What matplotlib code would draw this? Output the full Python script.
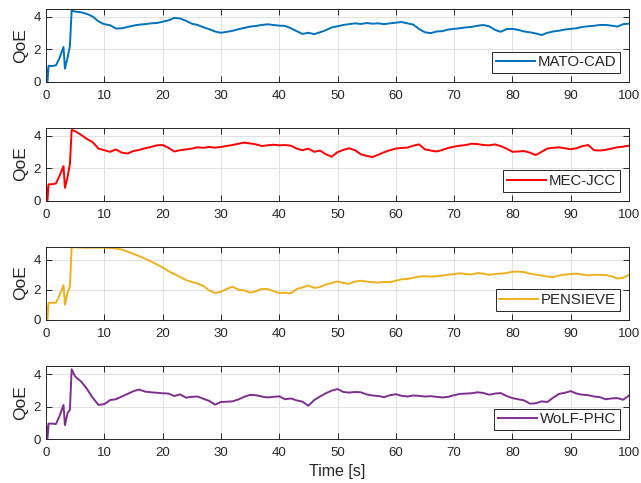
import matplotlib
matplotlib.use("Agg")
import matplotlib.pyplot as plt

plt.rcParams['font.family'] = ['Liberation Sans', 'DejaVu Sans']

# Time axis: dense samples during the start-up transient, then one per second
t_start = [0, 0.25, 0.45, 1.0, 1.7, 2.3, 3.0, 3.25, 3.7, 4.1, 4.4]
t_steady = list(range(5, 101))
time = t_start + t_steady

labels = ["MATO-CAD", "MEC-JCC", "PENSIEVE", "WoLF-PHC"]
colors = ["#0072BD", "#FF0000", "#EDB120", "#7E2F8E"]

qoe_mato_cad = [1.05, 0.0, 1.0, 0.98, 1.02, 1.45, 2.15, 0.82, 1.5, 2.2, 4.38,
    4.32, 4.28, 4.18, 4.02, 3.72, 3.55, 3.48, 3.28, 3.3, 3.38,
    3.46, 3.52, 3.55, 3.6, 3.62, 3.7, 3.78, 3.93, 3.9, 3.76,
    3.58, 3.5, 3.36, 3.24, 3.1, 3.02, 3.08, 3.14, 3.24, 3.32,
    3.4, 3.44, 3.5, 3.54, 3.5, 3.46, 3.44, 3.3, 3.12, 2.95,
    3.02, 2.94, 3.05, 3.18, 3.35, 3.42, 3.5, 3.55, 3.6, 3.56,
    3.62, 3.58, 3.6, 3.55, 3.6, 3.64, 3.68, 3.6, 3.52, 3.25,
    3.05, 3.0, 3.1, 3.12, 3.22, 3.26, 3.3, 3.35, 3.38, 3.45,
    3.5, 3.42, 3.2, 3.08, 3.25, 3.26, 3.2, 3.1, 3.05, 2.98,
    2.88, 3.02, 3.1, 3.15, 3.22, 3.26, 3.3, 3.38, 3.42, 3.45,
    3.5, 3.5, 3.46, 3.4, 3.55, 3.58]

qoe_mec_jcc = [1.05, 0.0, 1.0, 1.0, 1.05, 1.5, 2.12, 0.78, 1.45, 2.25, 4.35,
    4.28, 4.05, 3.8, 3.6, 3.2, 3.1, 3.0, 3.15, 2.95, 2.9,
    3.05, 3.12, 3.22, 3.3, 3.4, 3.42, 3.25, 3.02, 3.1, 3.15,
    3.2, 3.28, 3.25, 3.3, 3.26, 3.3, 3.36, 3.42, 3.5, 3.57,
    3.52, 3.46, 3.36, 3.4, 3.44, 3.4, 3.42, 3.38, 3.2, 3.1,
    3.2, 3.0, 3.08, 2.85, 2.7, 2.98, 3.12, 3.22, 3.1, 2.85,
    2.75, 2.68, 2.82, 2.98, 3.1, 3.2, 3.24, 3.26, 3.38, 3.46,
    3.15, 3.08, 3.02, 3.12, 3.24, 3.32, 3.38, 3.42, 3.5, 3.48,
    3.42, 3.4, 3.46, 3.35, 3.2, 3.0, 3.02, 3.05, 2.95, 2.8,
    3.0, 3.2, 3.25, 3.28, 3.22, 3.16, 3.22, 3.35, 3.42, 3.1,
    3.08, 3.12, 3.2, 3.28, 3.32, 3.38]

qoe_pensieve = [1.1, 0.0, 1.12, 1.12, 1.12, 1.6, 2.3, 1.0, 1.8, 2.2, 4.85,
    4.84, 4.83, 4.82, 4.82, 4.83, 4.82, 4.8, 4.76, 4.7, 4.55,
    4.4, 4.25, 4.08, 3.9, 3.7, 3.5, 3.25, 3.05, 2.85, 2.65,
    2.52, 2.42, 2.25, 1.95, 1.78, 1.86, 2.05, 2.2, 2.0, 1.95,
    1.8, 1.9, 2.05, 2.05, 1.9, 1.78, 1.8, 1.75, 2.05, 2.15,
    2.28, 2.12, 2.18, 2.35, 2.45, 2.55, 2.45, 2.4, 2.55, 2.6,
    2.55, 2.5, 2.48, 2.52, 2.5, 2.6, 2.7, 2.72, 2.8, 2.88,
    2.9, 2.88, 2.9, 2.95, 3.0, 3.05, 3.1, 3.05, 3.02, 3.12,
    3.08, 3.0, 3.05, 3.08, 3.12, 3.2, 3.22, 3.18, 3.08, 3.02,
    2.95, 2.88, 2.85, 2.95, 3.02, 3.05, 3.08, 3.02, 2.96, 3.0,
    3.0, 2.98, 2.9, 2.75, 2.8, 3.0]

qoe_wolf_phc = [1.05, 0.0, 0.95, 0.95, 0.92, 1.4, 2.1, 0.85, 1.6, 1.8, 4.3,
    3.85, 3.55, 3.1, 2.55, 2.1, 2.15, 2.4, 2.45, 2.62, 2.78,
    2.95, 3.05, 2.92, 2.88, 2.85, 2.82, 2.8, 2.65, 2.75, 2.55,
    2.6, 2.62, 2.48, 2.35, 2.12, 2.28, 2.3, 2.32, 2.44, 2.6,
    2.72, 2.7, 2.62, 2.56, 2.6, 2.63, 2.45, 2.5, 2.38, 2.3,
    2.05, 2.4, 2.62, 2.82, 2.98, 3.08, 2.9, 2.86, 2.9, 2.88,
    2.75, 2.68, 2.65, 2.58, 2.7, 2.76, 2.66, 2.62, 2.68, 2.66,
    2.62, 2.64, 2.6, 2.56, 2.6, 2.7, 2.78, 2.8, 2.82, 2.88,
    2.84, 2.73, 2.8, 2.83, 2.65, 2.52, 2.45, 2.38, 2.18, 2.2,
    2.32, 2.28, 2.55, 2.78, 2.85, 2.95, 2.8, 2.73, 2.7, 2.62,
    2.58, 2.45, 2.5, 2.52, 2.42, 2.68]

series = [qoe_mato_cad, qoe_mec_jcc, qoe_pensieve, qoe_wolf_phc]
y_tops = [4.48, 4.5, 4.9, 4.5]

W, H = 641, 483
fig = plt.figure(figsize=(W / 100, H / 100), dpi=100)

left_px, right_px = 46, 629
tops_px = [9, 127.5, 246.5, 366]
height_px = 73

text_color = "#262626"
for i, (vals, lab, col) in enumerate(zip(series, labels, colors)):
    top = tops_px[i]
    ax = fig.add_axes([left_px / W, 1 - (top + height_px) / H,
                       (right_px - left_px) / W, height_px / H])
    ax.plot(time, vals, color=col, lw=1.4, label=lab)
    ax.set_xlim(0, 100)
    ax.set_ylim(0, y_tops[i])
    ax.set_xticks(range(0, 101, 10))
    ax.set_yticks([0, 2, 4])
    ax.grid(True, color="#dcdcdc", lw=0.6)
    ax.set_axisbelow(True)
    ax.tick_params(direction="in", length=4.5, width=0.7, top=True, right=True,
                   labelsize=9.5, colors=text_color)
    ax.tick_params(axis="x", pad=6)
    ax.tick_params(axis="y", pad=3.5)
    for sp in ax.spines.values():
        sp.set_color(text_color)
        sp.set_linewidth(0.7)
    ax.set_ylabel("QoE", fontsize=12.5, color=text_color, labelpad=4)
    leg = ax.legend(loc="lower right", fontsize=10.8, frameon=True, fancybox=False,
                    handlelength=2.6, handletextpad=0.2, borderpad=0.25,
                    borderaxespad=0.6)
    leg.get_frame().set_edgecolor(text_color)
    leg.get_frame().set_linewidth(0.7)
    leg.get_frame().set_alpha(1)
    for txt in leg.get_texts():
        txt.set_color(text_color)
    if i == 3:
        ax.set_xlabel("Time [s]", fontsize=11.5, color=text_color, labelpad=3.5)

fig.savefig("out.png", dpi=100)
